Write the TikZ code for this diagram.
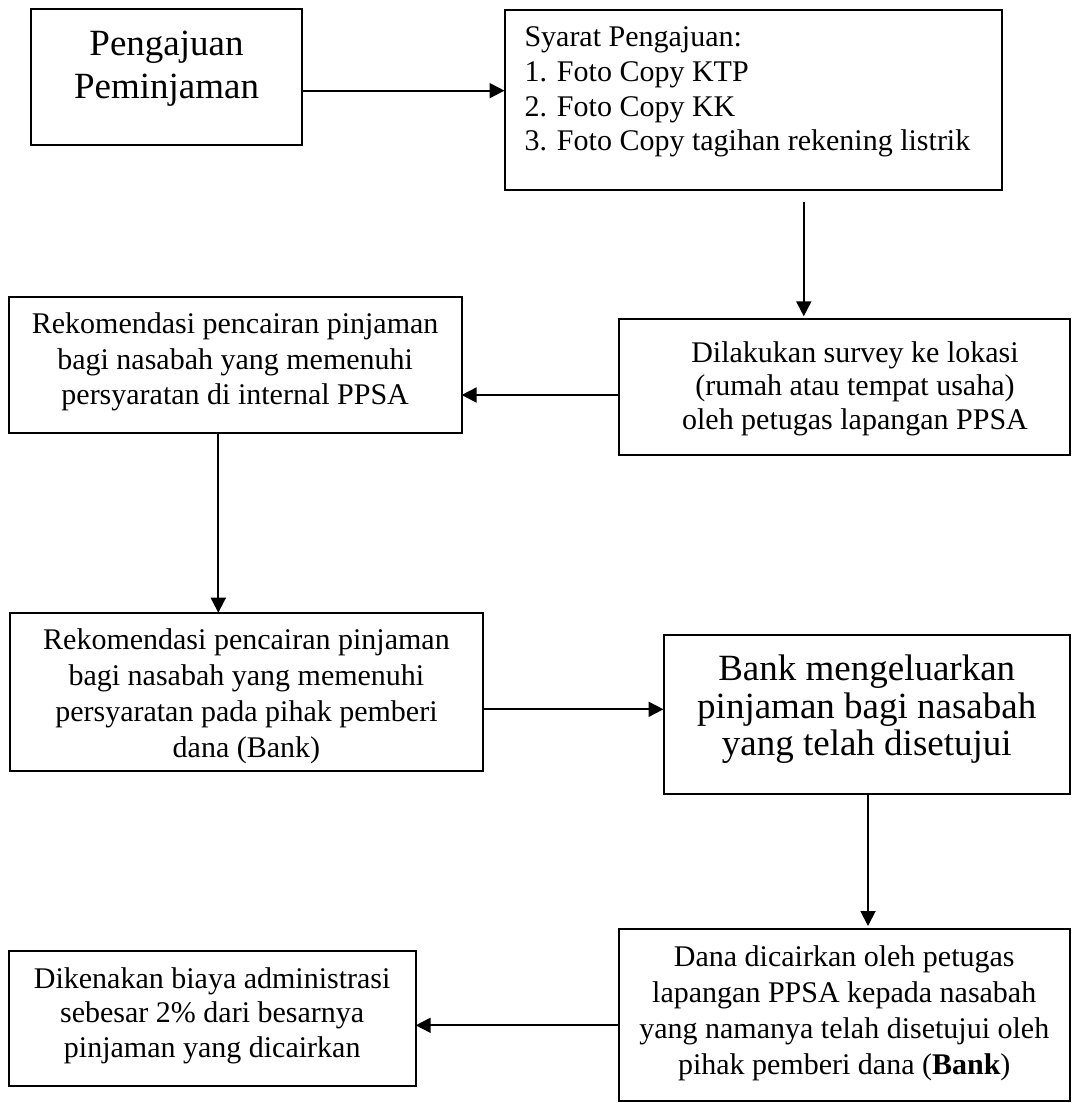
\documentclass[tikz,border=0pt]{standalone}
\usepackage{fontspec}
\setmainfont{Liberation Serif}
\usetikzlibrary{arrows.meta}

% Text block of a flow box: width, height, top gap, font size,
% line distance, extra left skip, extra right skip, lines
\newcommand{\flowtext}[8]{%
  \parbox[c][#2][t]{#1}{\fontsize{#4}{#5}\selectfont\centering
    \leftskip=#6 plus 1fil\relax\rightskip=#7 plus 1fil\relax
    \vspace*{#3}\strut #8}}

\tikzset{
  flowbox/.style={draw=black, line width=2pt, inner sep=0pt, outer sep=0pt, anchor=north west},
  arr/.style={line width=1.9pt, -{Triangle[length=15pt,width=15pt]}}
}

\begin{document}
\begin{tikzpicture}[x=1pt, y=-1pt]
  \fill[white] (0,0) rectangle (1090,1103);
  \useasboundingbox (0,0) rectangle (1090,1103);

  % boxes of the loan procedure
  \node[flowbox] (b1) at (30.6,9.3)
    {\flowtext{271.8pt}{135.7pt}{15.6pt}{37}{43}{0pt}{0pt}{Pengajuan\\Peminjaman}};
  \node[flowbox] (b2) at (504.5,9.5)
    {\parbox[c][180.5pt][t]{497.2pt}{\fontsize{30}{34.7}\selectfont\raggedright
      \leftskip=20pt\relax\vspace*{12.9pt}\strut Syarat Pengajuan:\\
      1. Foto Copy KTP\\2. Foto Copy KK\\3. Foto Copy tagihan rekening listrik}};
  \node[flowbox] (b3) at (619,319.3)
    {\flowtext{451pt}{135.7pt}{19.25pt}{30}{33.5}{21pt}{0pt}{Dilakukan survey ke lokasi\\(rumah atau tempat usaha)\\oleh petugas lapangan PPSA}};
  \node[flowbox] (b4) at (8.7,296.7)
    {\flowtext{452.9pt}{136pt}{11.5pt}{30}{35.8}{0pt}{0pt}{Rekomendasi pencairan pinjaman\\bagi nasabah yang memenuhi\\persyaratan di internal PPSA}};
  \node[flowbox] (b5) at (9.7,612.7)
    {\flowtext{473.5pt}{158pt}{12.2pt}{30}{35.8}{0pt}{0pt}{Rekomendasi pencairan pinjaman\\bagi nasabah yang memenuhi\\persyaratan pada pihak pemberi\\dana (Bank)}};
  \node[flowbox] (b6) at (663.5,635)
    {\flowtext{406.5pt}{159pt}{19.25pt}{37}{37.5}{0pt}{0pt}{Bank mengeluarkan\\pinjaman bagi nasabah\\yang telah disetujui}};
  \node[flowbox] (b7) at (618.5,929)
    {\flowtext{451.5pt}{172pt}{11.8pt}{30}{36}{0pt}{0pt}{Dana dicairkan oleh petugas\\lapangan PPSA kepada nasabah\\yang namanya telah disetujui oleh\\pihak pemberi dana (\textbf{Bank})}};
  \node[flowbox] (b8) at (8.7,951)
    {\flowtext{407pt}{135pt}{12.85pt}{30}{34.5}{0pt}{0pt}{Dikenakan biaya administrasi\\sebesar 2\% dari besarnya\\pinjaman yang dicairkan}};

  % connectors
  \coordinate (a1s) at ([yshift=-13.5pt]b1.east);
  \draw[arr] (a1s) -- (a1s -| b2.west);
  \coordinate (a2s) at ([xshift=50.7pt]b2.south);
  \draw[arr, shorten <=11.7pt, shorten >=3pt] (a2s) -- (a2s |- b3.north);
  \coordinate (a3s) at ([yshift=-7.85pt]b3.west);
  \draw[arr] (a3s) -- (a3s -| b4.east);
  \coordinate (a4s) at ([xshift=-16.85pt]b4.south);
  \draw[arr] (a4s) -- (a4s |- b5.north);
  \coordinate (a5s) at ([yshift=-17.6pt]b5.east);
  \draw[arr] (a5s) -- (a5s -| b6.west);
  \coordinate (a6s) at ([xshift=1.25pt]b6.south);
  \draw[arr, shorten >=3pt] (a6s) -- (a6s |- b7.north);
  \coordinate (a7s) at ([yshift=-10.3pt]b7.west);
  \draw[arr] (a7s) -- (a7s -| b8.east);
\end{tikzpicture}
\end{document}
